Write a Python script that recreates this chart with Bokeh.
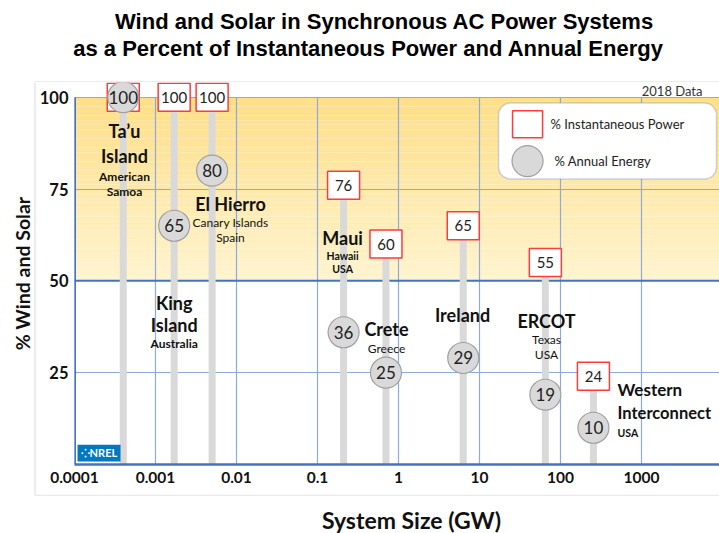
import numpy as np
from bokeh.plotting import figure
from bokeh.layouts import column, row
from bokeh.models import (FixedTicker, CustomJSTickFormatter, Label, BoxAnnotation,
                          Range1d, ColumnDataSource)
from bokeh.core.properties import value
from bokeh.embed import file_html
from bokeh.resources import INLINE

# ---------------- data ----------------
systems = ["Ta’u Island", "King Island", "El Hierro", "Maui", "Crete",
           "Ireland", "ERCOT", "Western Interconnect"]
system_size_gw = [0.0004, 0.0017, 0.005, 0.21, 0.7, 6.3, 65, 255]
instantaneous_power_pct = [100, 100, 100, 76, 60, 65, 55, 24]
annual_energy_pct = [100, 65, 80, 36, 25, 29, 19, 10]

x_ticks = [0.0001, 0.001, 0.01, 0.1, 1, 10, 100, 1000]
x_tick_labels = ["0.0001", "0.001", "0.01", "0.1", "1", "10", "100", "1000"]
y_ticks = [25, 50, 75, 100]

title_lines = ["Wind and Solar in Synchronous AC Power Systems",
               "as a Percent of Instantaneous Power and Annual Energy"]
x_title = "System Size (GW)"
y_title = "% Wind and Solar"

CAL = "Lato"
BLUE_L = "#8eaadb"
BLUE_D = "#4472c4"
GRAY_BOX = "#d9d9d9"
W, H = 719, 533
TOP_H = 82          # title strip height
LEFT_W = 36         # y-title strip width
BOT_H = 39          # x-title strip height
MID_H = H - TOP_H - BOT_H


def strip(width, height):
    f = figure(width=width, height=height, x_range=Range1d(0, width),
               y_range=Range1d(height, 0),
               output_backend="svg", toolbar_location=None,
               x_axis_location=None, y_axis_location=None, min_border=0)
    f.outline_line_color = None
    f.xgrid.visible = False
    f.ygrid.visible = False
    return f


# ---------------- title strip ----------------
t = strip(W, TOP_H)
for txt, cx, cy in ((title_lines[0], 384, 21), (title_lines[1], 368, 48)):
    t.add_layout(Label(x=cx, y=cy, text=txt, text_font="Liberation Sans",
                       text_font_size="22px", text_font_style="bold",
                       text_align="center", text_baseline="middle",
                       text_color="#000000"))
t.segment(x0=[34], y0=[TOP_H - 0.5], x1=[W], y1=[TOP_H - 0.5],
          line_color=GRAY_BOX, line_width=1)

# ---------------- y-title strip ----------------
yl = strip(LEFT_W, MID_H)
yl.add_layout(Label(x=22, y=273 - TOP_H, text=y_title, text_font=CAL,
                    text_font_size="19.5px", text_font_style="bold",
                    text_align="center", text_baseline="middle",
                    angle=90, angle_units="deg", text_color="#111111"))
yl.segment(x0=[34.5], y0=[0], x1=[34.5], y1=[MID_H], line_color=GRAY_BOX, line_width=1)

# ---------------- x-title strip ----------------
xl = strip(W, BOT_H)
xl.add_layout(Label(x=411, y=519 - (TOP_H + MID_H), text=x_title, text_font=CAL,
                    text_font_size="23px", text_font_style="bold",
                    text_align="center", text_baseline="middle", text_color="#111111"))
xl.segment(x0=[34], y0=[0.5], x1=[W], y1=[0.5], line_color=GRAY_BOX, line_width=1)
xl.segment(x0=[34.5], y0=[0], x1=[34.5], y1=[1], line_color=GRAY_BOX, line_width=1)

# ---------------- main chart ----------------
X_START, X_END = 1e-4, 10 ** 3.963
Y_START, Y_END = 0, 104

p = figure(width=W - LEFT_W, height=MID_H, x_axis_type="log",
           x_range=Range1d(X_START, X_END), y_range=Range1d(Y_START, Y_END),
           output_backend="svg", toolbar_location=None,
           min_border_left=74 - LEFT_W, min_border_right=0, min_border_top=0,
           min_border_bottom=MID_H - (464 - TOP_H))
p.outline_line_color = None
p.background_fill_color = "white"
p.border_fill_color = "white"

for fig in (t, yl, xl, p):
    try:
        fig.frame_align = False
    except Exception:
        pass

# gradient background 50..100
edges = np.linspace(50, 100, 41)
c_bot = np.array([255, 244, 208])
c_top = np.array([254, 222, 135])
band_cols = []
for i in range(40):
    f = (i + 0.5) / 40
    c = c_bot + (c_top - c_bot) * f
    band_cols.append("#%02x%02x%02x" % tuple(int(round(v)) for v in c))
p.quad(left=X_START, right=X_END, bottom=edges[:-1], top=edges[1:],
       fill_color=band_cols, line_color=None, level="image")

# grids
p.xgrid.visible = False
p.ygrid.ticker = FixedTicker(ticks=y_ticks)
p.ygrid.grid_line_color = BLUE_L
p.ygrid.grid_line_width = 1.2
p.segment(x0=x_ticks, y0=0, x1=x_ticks, y1=100, line_color=BLUE_L, line_width=1.2)
p.segment(x0=[X_START], y0=[0], x1=[X_START], y1=[100], line_color=BLUE_D, line_width=3)
p.segment(x0=[X_START], y0=[50], x1=[X_END], y1=[50], line_color=BLUE_D, line_width=2)

src = ColumnDataSource(dict(
    x=system_size_gw, power=instantaneous_power_pct, energy=annual_energy_pct,
    ptxt=[str(v) for v in instantaneous_power_pct],
    etxt=[str(v) for v in annual_energy_pct], zero=[0] * len(systems)))

# bars
p.segment(x0="x", y0="zero", x1="x", y1="power", source=src,
          line_color="#d9d9d9", line_width=7)
# power boxes
p.rect(x="x", y="power", width=32, height=28, width_units="screen",
       height_units="screen", fill_color="white", line_color="#ff3b3b",
       line_width=1.5, source=src)
p.text(x="x", y="power", text="ptxt", source=src, text_align="center",
       text_baseline="middle", text_font=value(CAL), text_font_size="15px",
       text_color="#222222")
# energy circles
p.scatter(x="x", y="energy", size=31, fill_color="#d9d9d9", line_color="#a0a0a0",
          line_width=1.2, source=src)
p.text(x="x", y="energy", text="etxt", source=src, text_align="center",
       text_baseline="middle", text_font=value(CAL), text_font_size="17px",
       text_color="#222222")

# axes
p.xaxis.ticker = FixedTicker(ticks=x_ticks)
p.xaxis.formatter = CustomJSTickFormatter(args=dict(vals=x_ticks, labs=x_tick_labels), code="""
let best = 0, bd = Infinity;
for (let i = 0; i < vals.length; i++) {
  const d = Math.abs(Math.log10(tick) - Math.log10(vals[i]));
  if (d < bd) { bd = d; best = i; }
}
return labs[best];
""")
p.xaxis.axis_line_color = BLUE_D
p.xaxis.axis_line_width = 2.5
p.xaxis.major_tick_line_color = None
p.xaxis.minor_tick_line_color = None
p.xaxis.major_tick_out = 0
p.xaxis.major_tick_in = 0
p.xaxis.minor_tick_out = 0
p.xaxis.major_label_standoff = 7
p.xaxis.major_label_text_font = CAL
p.xaxis.major_label_text_font_style = "bold"
p.xaxis.major_label_text_font_size = "15.5px"
p.xaxis.major_label_text_color = "#111111"

p.yaxis.ticker = FixedTicker(ticks=y_ticks)
p.yaxis.axis_line_color = None
p.yaxis.major_tick_line_color = None
p.yaxis.minor_tick_line_color = None
p.yaxis.major_tick_out = 0
p.yaxis.major_tick_in = 0
p.yaxis.minor_tick_out = 0
p.yaxis.major_label_standoff = 6
p.yaxis.major_label_text_font = CAL
p.yaxis.major_label_text_font_style = "bold"
p.yaxis.major_label_text_font_size = "16.5px"
p.yaxis.major_label_text_color = "#111111"


def lab(x, y, text, size, bold=True, align="center", font=CAL, color="#111111", level="annotation"):
    p.add_layout(Label(x=x, y=y, text=text, text_font=font, text_font_size=size,
                       text_font_style="bold" if bold else "normal",
                       text_align=align, text_baseline="middle",
                       text_color=color, level=level))


lab(5660, 101.8, "2018 Data", "13px", bold=False, align="right", color="#333333")

# system labels
big, small, tiny = "18px", "12px", "10.5px"
lab(0.000414, 90.7, "Ta’u", big)
lab(0.000414, 83.9, "Island", big)
lab(0.000414, 78.5, "American", small)
lab(0.000414, 74.4, "Samoa", small)
lab(0.0017, 44.1, "King", big)
lab(0.0017, 38.1, "Island", big)
lab(0.0017, 33.0, "Australia", small)
lab(0.00843, 70.8, "El Hierro", big)
lab(0.00843, 65.9, "Canary Islands", small, bold=False)
lab(0.00843, 61.9, "Spain", small, bold=False)
lab(0.204, 61.6, "Maui", big)
lab(0.204, 56.7, "Hawaii", tiny)
lab(0.204, 53.1, "USA", tiny)
lab(0.711, 36.8, "Crete", big)
lab(0.711, 31.6, "Greece", small, bold=False)
lab(6.17, 40.6, "Ireland", big)
lab(67.2, 39.2, "ERCOT", big)
lab(67.2, 34.1, "Texas", small, bold=False)
lab(67.2, 30.0, "USA", small, bold=False)
lab(506, 20.4, "Western", "17px", align="left")
lab(506, 13.9, "Interconnect", "16.5px", align="left")
lab(506, 8.7, "USA", tiny, align="left")

# NREL logo
p.quad(left=[0.000109], right=[0.00037], bottom=[0.8], top=[5.4],
       fill_color="#0079c1", line_color=None)
lab(0.0002, 3.3, "⁘NREL", "11px", color="white")

# legend
box = BoxAnnotation(left=17.2, right=8430, top=98.4, bottom=77.7,
                    fill_color="white", fill_alpha=1.0,
                    line_color="#5b7db8", line_width=1.5)
try:
    box.border_radius = 12
except Exception:
    pass
p.add_layout(box)
p.rect(x=[39.2], y=[92.6], width=30, height=27, width_units="screen",
       height_units="screen", fill_color="white", line_color="#ff3b3b",
       line_width=1.5, level="overlay")
p.scatter(x=[39.2], y=[82.6], size=31, fill_color="#d9d9d9", line_color="#a0a0a0",
          line_width=1.2, level="overlay")
lab(75.3, 92.6, "% Instantaneous Power", "13px", bold=False, align="left",
    color="#222222", level="overlay")
lab(84.3, 82.6, "% Annual Energy", "13px", bold=False, align="left",
    color="#222222", level="overlay")

page = column(t, row(yl, p, spacing=0), xl, spacing=0)
open("out.html", "w").write(file_html(page, INLINE))
